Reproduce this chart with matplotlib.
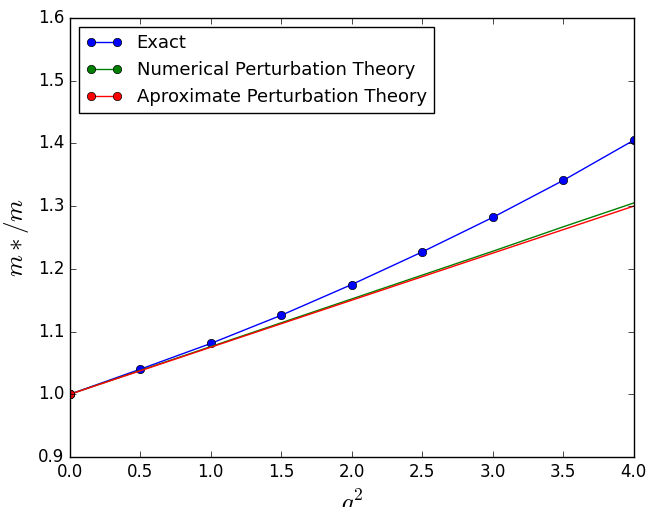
import numpy as np
import matplotlib
matplotlib.use('Agg')
import matplotlib.pyplot as plt

plt.style.use('classic')

# g^2 values
g2 = [0.0, 0.5, 1.0, 1.5, 2.0, 2.5, 3.0, 3.5, 4.0]

# effective mass ratio m*/m
exact = [1.000, 1.040, 1.081, 1.126, 1.175, 1.227, 1.282, 1.341, 1.405]
numerical_pt = [1.000, 1.038, 1.076, 1.114, 1.152, 1.190, 1.228, 1.267, 1.305]
approx_pt = [1.000, 1.0375, 1.075, 1.1125, 1.150, 1.1875, 1.225, 1.2625, 1.300]

fig = plt.figure(figsize=(6.46, 5.07), dpi=100)
ax = fig.add_axes([0.108, 0.0986, 0.873, 0.866])

ax.plot(g2, exact, 'bo-', label='Exact')
ax.plot(g2, numerical_pt, 'go-', markevery=[0], label='Numerical Perturbation Theory')
ax.plot(g2, approx_pt, 'ro-', markevery=[0], label='Aproximate Perturbation Theory')

ax.set_xlim(0, 4)
ax.set_ylim(0.9, 1.6)
ax.set_xlabel(r'$g^2$', fontsize=18)
ax.set_ylabel(r'$m*/m$', fontsize=18)

ax.legend(loc='upper left', fontsize=13)

fig.savefig('out.png', dpi=100)
